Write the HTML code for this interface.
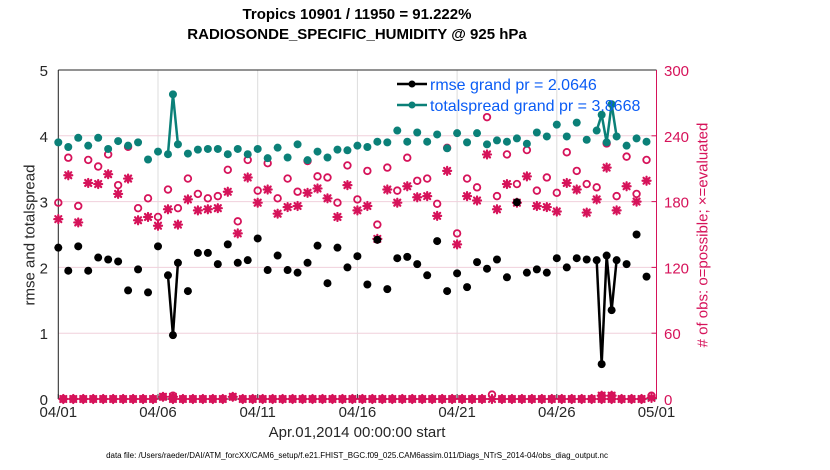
<!DOCTYPE html>
<html><head><meta charset="utf-8"><style>
body{margin:0;background:#fff;}
svg{display:block;font-family:"Liberation Sans",sans-serif;}
</style></head><body>
<svg id="chart" width="830" height="470" viewBox="0 0 830 470"></svg>
<script>
// 6-hourly slot index (0 = 04/01 00Z)
const slots = [0,2,4,6,8,10,12,14,16,18,20,22,23,24,26,28,30,32,34,36,38,40,42,44,46,48,50,52,54,56,58,60,62,64,66,68,70,72,74,76,78,80,82,84,86,88,90,92,94,96,98,100,102,104,106,108,109,110,111,112,114,116,118];
const rmse = [2.30,1.95,2.32,1.95,2.15,2.12,2.09,1.65,1.97,1.62,2.32,1.88,0.97,2.07,1.64,2.22,2.22,2.05,2.35,2.07,2.11,2.44,1.96,2.18,1.96,1.92,2.07,2.33,1.76,2.30,2.00,2.17,1.74,2.42,1.67,2.14,2.16,2.05,1.88,2.40,1.64,1.91,1.70,2.08,1.98,2.12,1.85,2.99,1.92,1.97,1.92,2.14,2.00,2.14,2.12,2.11,0.53,2.18,1.35,2.11,2.05,2.50,1.86];
const spread = [3.90,3.83,3.97,3.85,3.97,3.80,3.92,3.85,3.90,3.64,3.76,3.72,4.63,3.87,3.73,3.79,3.80,3.80,3.72,3.80,3.72,3.80,3.66,3.82,3.67,3.87,3.63,3.76,3.67,3.79,3.78,3.85,3.83,3.91,3.90,4.08,3.91,4.05,3.91,4.02,3.81,4.04,3.90,4.04,3.87,3.93,3.91,3.96,3.88,4.05,3.99,4.17,3.99,4.20,3.94,4.08,4.32,3.90,4.48,3.99,3.85,3.96,3.91];
// obs counts (right axis units)
const possible = [179,220,176,218,212,223,195,230,174,183,166,191,3,174,201,187,183,185,209,162,218,190,215,183,201,189,217,203,202,179,213,182,208,159,211,190,220,199,201,178,229,151,201,193,257,185,223,196,227,190,202,188,225,208,196,193,3,233,3,185,221,187,218];
const evaluated = [164,204,161,197,196,205,187,201,163,166,158,173,2,159,182,172,173,174,189,151,202,179,191,169,175,176,188,192,183,166,195,172,176,146,191,179,194,184,185,167,208,141,185,181,223,173,196,179,203,176,175,171,197,191,170,182,3,211,3,172,194,180,199];
const lowSlots = [21,35,87,119];
const lowPossible = [2,2,4,3];
const lowEval = [2,2,0,1];
const xTicks = ["04/01","04/06","04/11","04/16","04/21","04/26","05/01"];
const yTicks = [0,1,2,3,4,5];
const rTicks = [0,60,120,180,240,300];

const NS="http://www.w3.org/2000/svg";
const svg=document.getElementById('chart');
const X0=58.3,X1=656.5,Y0=399,Y1=70;
const xs=s=>X0+(X1-X0)*s/120;
const yl=v=>Y0-(Y0-Y1)*v/5;
const yr=v=>Y0-(Y0-Y1)*v/300;
const PINK="#d6135a",TEAL="#0b8078";
function mk(tag,attrs,parent){const e=document.createElementNS(NS,tag);for(const k in attrs)e.setAttribute(k,attrs[k]);(parent||svg).appendChild(e);return e;}

// grids
xTicks.forEach((t,i)=>{const x=xs(i*20);
 const g=mk('line',{x1:x,x2:x,y1:Y1,y2:Y0,stroke:'#dcdcdc','stroke-width':1});
 
 
 const tk=mk('line',{x1:x,x2:x,y1:Y0,y2:Y0-5,stroke:'#333'});
 
 
 const tx=mk('text',{x:x,y:417,'text-anchor':'middle','font-size':15,fill:'#262626'});tx.textContent=t;
 
 
});
yTicks.forEach(v=>{const y=yl(v);
 if(v>0&&v<5){const g=mk('line',{x1:X0,x2:X1,y1:y,y2:y,stroke:'#f0d0dc','stroke-width':1});
 
 }
 const tx=mk('text',{x:48,y:y+6,'text-anchor':'end','font-size':15,fill:'#262626'});tx.textContent=v;
 
 
});
rTicks.forEach(v=>{const y=yr(v);
 mk('line',{x1:X1,x2:X1-5,y1:y,y2:y,stroke:PINK});
 const tx=mk('text',{x:664,y:y+6,'font-size':15,fill:PINK});tx.textContent=v;
 
 
});
const ax=mk('line',{x1:X0,x2:X0,y1:Y1,y2:Y0,stroke:'#262626'});


const bx=mk('line',{x1:X0,x2:X1,y1:Y0,y2:Y0,stroke:'#262626'});


const tx0=mk('line',{x1:X0,x2:X1,y1:Y1,y2:Y1,stroke:'#262626'});


const rx=mk('line',{x1:X1,x2:X1,y1:Y1,y2:Y0,stroke:PINK});



function star(x,y,name){const g=mk('g',{stroke:PINK,'stroke-width':2.2,'stroke-linecap':'round'});
 
 
 const r=4;mk('line',{x1:x-r,x2:x+r,y1:y,y2:y},g);mk('line',{x1:x,x2:x,y1:y-r,y2:y+r},g);
 mk('line',{x1:x-3,x2:x+3,y1:y-3,y2:y+3},g);mk('line',{x1:x-3,x2:x+3,y1:y+3,y2:y-3},g);}
function circ(x,y,name){const c=mk('circle',{cx:x,cy:y,r:3.3,fill:'none',stroke:PINK,'stroke-width':1.8});
 
 }

// zero-count slots along the bottom
for(let s=1;s<=120;s+=2){if(lowSlots.indexOf(s)>=0)continue;star(xs(s),yr(0),'evaluated-zero');circ(xs(s),yr(0),'possible-zero');}
lowSlots.forEach((s,i)=>{star(xs(s),yr(lowEval[i]),'evaluated-low');circ(xs(s),yr(lowPossible[i]),'possible-low');});
slots.forEach((s,i)=>{circ(xs(s),yr(possible[i]),'possible-point');star(xs(s),yr(evaluated[i]),'evaluated-point');});

function series(vals,color,name){
 for(let i=1;i<slots.length;i++){if(slots[i]-slots[i-1]===1){const l=mk('line',{x1:xs(slots[i-1]),y1:yl(vals[i-1]),x2:xs(slots[i]),y2:yl(vals[i]),stroke:color,'stroke-width':2.5});
  
  }}
 slots.forEach((s,i)=>{const c=mk('circle',{cx:xs(s),cy:yl(vals[i]),r:4,fill:color});
  
  });
}
series(spread,TEAL,'totalspread');
series(rmse,'#000','rmse');

// legend
const leg=[["rmse grand pr = 2.0646","#000",90],["totalspread grand pr = 3.8668",TEAL,111]];
leg.forEach(([t,c,y])=>{const g=mk('g',{});
 
 
 mk('line',{x1:397,x2:427,y1:y-6,y2:y-6,stroke:c,'stroke-width':2.5},g);
 mk('circle',{cx:412,cy:y-6,r:3.5,fill:c},g);
 const tx=mk('text',{x:430,y:y,'font-size':16,fill:'#0a5cf5'},g);tx.textContent=t;});
</script>
<div style="position:absolute;left:0;top:0;width:830px;height:470px;pointer-events:none;font-family:'Liberation Sans',sans-serif;">
<div style="position:absolute;left:0;width:714px;top:5px;text-align:center;font-weight:bold;font-size:15px;line-height:20px;color:#000;">Tropics 10901 / 11950 = 91.222%<br>RADIOSONDE_SPECIFIC_HUMIDITY @ 925 hPa</div>
<div style="position:absolute;left:0;width:714px;top:424px;text-align:center;font-size:15px;color:#262626;">Apr.01,2014 00:00:00 start</div>
<div style="position:absolute;left:30px;top:235px;transform:translate(-50%,-50%) rotate(-90deg);white-space:nowrap;font-size:15px;color:#262626;">rmse and totalspread</div>
<div style="position:absolute;left:703px;top:235px;transform:translate(-50%,-50%) rotate(-90deg);white-space:nowrap;font-size:15px;color:#d6135a;">#&nbsp;of obs: o=possible; ×=evaluated</div>
<div style="position:absolute;left:0;width:714px;top:451px;text-align:center;font-size:8px;color:#000;">data file: /Users/raeder/DAI/ATM_forcXX/CAM6_setup/f.e21.FHIST_BGC.f09_025.CAM6assim.011/Diags_NTrS_2014-04/obs_diag_output.nc</div>
</div>
</body></html>
